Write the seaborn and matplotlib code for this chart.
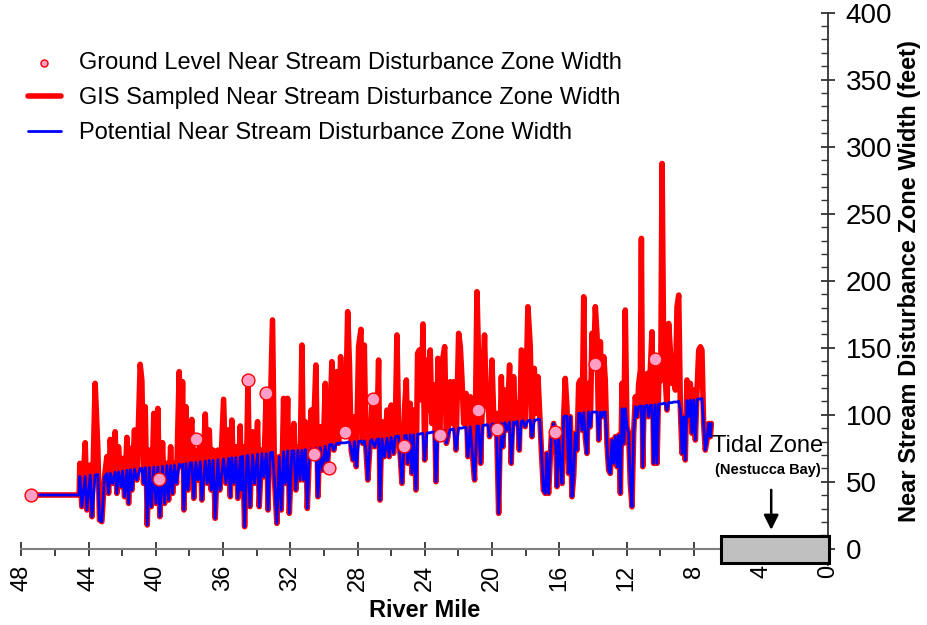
import numpy as np
import pandas as pd
import seaborn as sns
import matplotlib.pyplot as plt
from matplotlib.patches import Rectangle

# GIS sampled vertices (river mile, feet)
river_mile = [
    47.43, 44.56,
    44.52, 44.40, 44.20, 44.10, 43.90, 43.80, 43.61, 43.45, 43.35, 43.21,
    43.05, 42.91, 42.81, 42.71, 42.57, 42.42, 42.32, 42.22, 42.08, 41.98,
    41.86, 41.72, 41.62, 41.52, 41.42, 41.27, 41.13, 40.93, 40.83, 40.73,
    40.63, 40.51, 40.39, 40.27, 40.12, 39.99, 39.88, 39.76, 39.60, 39.48,
    39.34, 39.24, 39.12, 39.00, 38.89, 38.77, 38.61, 38.49, 38.41, 38.33,
    38.21, 38.09, 37.97, 37.86, 37.74, 37.62, 37.50, 37.36, 37.26, 37.06,
    36.94, 36.82, 36.71, 36.59, 36.47, 36.31, 36.19, 35.97, 35.83, 35.67,
    35.57, 35.48, 35.36, 35.24, 35.12, 34.98,
    34.92, 34.84, 34.72, 34.58, 34.52, 34.40, 34.25, 34.13, 33.95, 33.85,
    33.69, 33.59, 33.43, 33.33, 33.20, 33.06, 32.94, 32.80, 32.66, 32.54,
    32.40, 32.30, 32.16, 32.06, 31.91, 31.79, 31.67, 31.55, 31.43, 31.31,
    31.21, 31.11, 30.99, 30.87, 30.76, 30.66, 30.48, 30.36, 30.22, 30.08,
    29.92, 29.80, 29.67, 29.53, 29.41, 29.25, 29.13, 29.01, 28.89, 28.73,
    28.59, 28.48, 28.38, 28.28, 28.18, 28.08, 27.94, 27.80, 27.70, 27.60,
    27.50, 27.39, 27.25, 27.15, 26.99, 26.85, 26.75, 26.67, 26.55, 26.41,
    26.25, 26.12, 26.00, 25.86, 25.76, 25.66, 25.56,
    25.36, 25.20, 25.10, 25.01, 24.87, 24.77, 24.67, 24.53, 24.43, 24.33,
    24.21, 24.11, 24.01, 23.87, 23.78, 23.68, 23.58, 23.44, 23.34, 23.22,
    23.12, 22.98, 22.82, 22.72, 22.63, 22.49, 22.39, 22.29, 22.15, 21.99,
    21.89, 21.79, 21.69, 21.55, 21.44, 21.30, 21.16, 21.04, 20.90, 20.80,
    20.68, 20.56, 20.45, 20.35, 20.25, 20.15, 20.01, 19.89, 19.75, 19.61,
    19.45, 19.35, 19.24, 19.12, 18.96, 18.86, 18.72, 18.62, 18.50, 18.38,
    18.26, 18.15, 18.03, 17.87, 17.73, 17.63, 17.49, 17.39, 17.27, 17.17,
    17.07, 16.95, 16.84, 16.74, 16.64, 16.48, 16.34, 16.20,
    16.14, 16.04, 15.94, 15.84, 15.74, 15.65, 15.55, 15.45, 15.35, 15.25,
    15.15, 15.05, 14.95, 14.85, 14.75, 14.65, 14.55, 14.46, 14.36, 14.26,
    14.16, 14.06, 13.96, 13.86, 13.76, 13.66, 13.56, 13.46, 13.36, 13.27,
    13.17, 13.07, 12.97, 12.87, 12.77, 12.67, 12.57, 12.47, 12.37, 12.27,
    12.17, 12.08, 11.98, 11.88, 11.78, 11.68, 11.58, 11.48, 11.38, 11.28,
    11.18, 11.12, 11.04, 10.93, 10.85, 10.77, 10.69, 10.59, 10.49, 10.39,
    10.29, 10.19, 10.09, 9.97, 9.89, 9.80, 9.70, 9.60, 9.50, 9.40,
    9.30, 9.20, 9.10, 9.00, 8.90, 8.80, 8.70, 8.61, 8.51, 8.41,
    8.31, 8.21, 8.11, 8.01, 7.91, 7.81, 7.71, 7.61, 7.52, 7.42,
    7.32, 7.22, 7.12, 7.02, 6.96,
]

gis_width = [
    40.1, 40.1,
    63.7, 31.4, 79.1, 28.9, 62.5, 23.9, 123.4, 74.9, 21.4, 20.2,
    53.7, 68.7, 41.3, 81.6, 48.8, 87.3, 41.3, 76.1, 46.3, 67.4,
    38.8, 83.1, 33.8, 74.9, 43.8, 88.6, 51.3, 137.6, 125.4, 48.8,
    106.0, 17.7, 73.6, 31.4, 101.0, 33.8, 104.7, 23.9, 79.1, 33.8,
    63.7, 36.3, 76.1, 41.3, 63.7, 48.8, 132.1, 61.2, 124.6, 28.9,
    106.0, 43.8, 83.6, 96.5, 37.6, 73.6, 51.3, 78.6, 36.3, 100.5,
    48.8, 88.6, 43.8, 73.6, 22.7, 73.6, 43.8, 111.5, 48.8, 88.6,
    38.8, 96.0, 48.8, 76.1, 37.6, 91.6,
    43.8, 76.1, 16.4, 79.9, 124.6, 31.4, 87.3, 48.8, 94.8, 31.4,
    73.6, 53.7, 115.9, 28.9, 98.5, 170.7, 51.3, 18.9, 68.7, 28.9,
    112.2, 48.8, 112.2, 26.4, 73.6, 93.5, 43.8, 76.1, 51.3, 152.0,
    51.3, 94.8, 30.1, 71.2, 103.5, 71.2, 137.1, 38.8, 91.1, 58.7,
    123.4, 61.2, 83.6, 139.6, 73.6, 132.1, 78.6, 143.3, 93.5, 86.1,
    176.9, 135.8, 73.6, 66.2, 98.5, 61.2, 150.8, 163.7, 78.6, 152.0,
    73.6, 51.3, 79.9, 111.0, 76.1, 86.1, 140.8, 36.3, 94.8, 68.7,
    103.5, 68.7, 107.2, 71.2, 88.6, 159.5, 88.6,
    48.8, 106.0, 125.9, 63.7, 108.5, 56.2, 103.5, 43.8, 145.8, 148.3,
    111.0, 167.7, 66.2, 140.8, 103.5, 148.3, 93.5, 122.2, 50.0, 142.1,
    86.1, 138.3, 150.8, 78.6, 83.6, 124.6, 93.5, 124.6, 73.6, 160.7,
    150.8, 125.9, 93.5, 115.9, 68.7, 113.4, 68.7, 51.3, 191.8, 140.8,
    63.7, 118.4, 159.5, 106.0, 118.4, 83.6, 140.8, 93.5, 101.0, 26.4,
    128.4, 76.1, 118.4, 88.6, 137.1, 63.7, 128.4, 93.5, 108.5, 73.6,
    148.3, 147.0, 91.1, 180.6, 150.8, 83.6, 134.6, 101.0, 128.4, 101.0,
    73.6, 43.8, 41.3, 71.2, 41.3, 83.6, 93.5, 73.6,
    46.3, 83.6, 63.7, 48.7, 98.5, 127.1, 106.0, 56.2, 98.5, 38.8,
    53.7, 86.1, 73.6, 123.4, 125.9, 88.5, 188.0, 83.6, 71.1, 123.4,
    91.0, 160.7, 138.3, 180.6, 159.4, 81.1, 154.5, 98.5, 143.3, 125.9,
    78.6, 58.7, 56.2, 81.1, 63.7, 83.6, 61.2, 84.8, 41.3, 123.4,
    78.6, 178.1, 91.0, 86.1, 48.7, 31.3, 86.1, 113.4, 98.5, 123.4,
    133.3, 231.6, 61.2, 128.3, 108.4, 130.8, 98.5, 133.3, 161.9, 63.7,
    140.8, 63.7, 123.4, 125.9, 287.5, 150.7, 128.3, 103.5, 168.1, 148.2,
    123.4, 135.8, 118.4, 180.6, 189.3, 103.5, 71.1, 98.5, 66.2, 125.9,
    98.5, 123.4, 86.1, 118.4, 81.1, 118.4, 148.2, 150.7, 148.2, 93.5,
    73.6, 81.1, 93.5, 83.6, 93.5,
]

potential_width = [
    40.1, 40.1,
    54.0, 31.4, 54.0, 28.9, 55.0, 23.9, 55.0, 55.5, 21.4, 20.2,
    53.7, 56.0, 41.3, 56.5, 48.8, 57.0, 41.3, 57.5, 46.3, 58.0,
    38.8, 58.5, 33.8, 59.0, 43.8, 59.5, 51.3, 60.0, 60.0, 48.8,
    60.5, 17.7, 60.5, 31.4, 61.0, 33.8, 61.0, 23.9, 61.5, 33.8,
    62.0, 36.3, 62.0, 41.3, 62.5, 48.8, 63.0, 61.2, 63.0, 28.9,
    63.5, 43.8, 64.0, 64.0, 37.6, 64.5, 51.3, 65.0, 36.3, 65.5,
    48.8, 66.0, 43.8, 66.0, 22.7, 66.5, 43.8, 67.0, 48.8, 67.5,
    38.8, 68.0, 48.8, 68.0, 37.6, 68.5,
    43.8, 69.0, 16.4, 69.5, 69.5, 31.4, 70.0, 48.8, 70.5, 31.4,
    71.0, 53.7, 71.0, 28.9, 71.5, 72.0, 51.3, 18.9, 68.7, 28.9,
    72.5, 48.8, 73.0, 26.4, 73.0, 73.0, 43.8, 73.5, 51.3, 73.5,
    51.3, 74.0, 30.1, 71.2, 74.5, 71.2, 75.0, 38.8, 75.5, 58.7,
    76.5, 61.2, 77.5, 78.0, 73.6, 78.5, 78.6, 79.0, 79.0, 79.0,
    79.5, 79.5, 73.6, 66.2, 80.0, 61.2, 80.0, 80.5, 78.6, 80.5,
    73.6, 51.3, 79.9, 81.5, 76.1, 81.5, 82.0, 36.3, 82.0, 68.7,
    82.5, 68.7, 83.0, 71.2, 83.5, 84.0, 84.0,
    48.8, 84.5, 84.5, 63.7, 85.0, 56.2, 85.0, 43.8, 85.5, 85.5,
    86.0, 86.0, 66.2, 86.5, 86.5, 86.5, 87.0, 87.0, 50.0, 87.5,
    86.1, 88.0, 88.0, 78.6, 83.6, 89.0, 89.0, 89.5, 73.6, 90.0,
    90.0, 90.0, 90.5, 90.5, 68.7, 91.0, 68.7, 51.3, 91.5, 91.5,
    63.7, 92.0, 92.0, 92.5, 92.5, 83.6, 93.0, 93.0, 93.0, 26.4,
    93.5, 76.1, 94.0, 88.6, 94.5, 63.7, 94.5, 93.5, 95.0, 73.6,
    95.0, 95.5, 91.1, 95.5, 96.0, 83.6, 96.0, 96.0, 96.5, 96.5,
    73.6, 43.8, 41.3, 71.2, 41.3, 83.6, 93.5, 73.6,
    46.3, 83.6, 63.7, 48.7, 98.5, 99.0, 99.0, 56.2, 98.5, 38.8,
    53.7, 86.1, 73.6, 101.0, 101.0, 88.5, 101.5, 83.6, 71.1, 102.0,
    91.0, 102.0, 102.0, 102.0, 102.0, 81.1, 102.0, 98.5, 102.0, 102.0,
    78.6, 58.7, 56.2, 81.1, 63.7, 83.6, 61.2, 84.8, 41.3, 104.5,
    78.6, 104.5, 91.0, 86.1, 48.7, 31.3, 86.1, 106.0, 98.5, 106.0,
    106.5, 106.5, 61.2, 106.5, 106.5, 107.0, 98.5, 107.0, 107.0, 63.7,
    107.5, 63.7, 108.0, 108.0, 108.0, 108.5, 108.5, 103.5, 109.0, 109.0,
    109.0, 109.5, 109.5, 109.5, 110.0, 103.5, 71.1, 98.5, 66.2, 110.5,
    98.5, 111.0, 86.1, 111.0, 81.1, 111.5, 111.5, 112.0, 112.0, 93.5,
    73.6, 81.1, 93.5, 83.6, 93.5,
]

# ground level measurements
ground_mile = [47.43, 39.84, 37.60, 34.52, 33.43, 30.62, 29.73, 28.73,
               27.11, 25.22, 23.08, 20.86, 19.71, 16.24, 13.90, 10.29]
ground_width = [40.1, 52.0, 81.9, 125.9, 116.0, 70.7, 60.0, 87.3,
                111.7, 76.9, 84.9, 103.5, 89.3, 87.3, 137.8, 141.6]

x_ticks = list(range(0, 49, 4))
y_ticks = list(range(0, 401, 50))

sns.set_style('white')
plt.rcParams['font.family'] = ['Liberation Sans', 'DejaVu Sans']
plt.rcParams['text.color'] = 'black'
plt.rcParams['axes.labelcolor'] = 'black'
plt.rcParams['xtick.color'] = 'black'
plt.rcParams['ytick.color'] = 'black'

fig = plt.figure(figsize=(9.27, 6.25), dpi=100)
ax = fig.add_axes([0.023, 0.0963, 0.8706, 0.8834])

df = pd.DataFrame({'mile': river_mile, 'gis': gis_width, 'potential': potential_width})

sns.lineplot(data=df, x='mile', y='gis', color='#ff0000', linewidth=4.0,
             estimator=None, sort=False, ax=ax, zorder=2,
             label='GIS Sampled Near Stream Disturbance Zone Width')
sns.lineplot(data=df, x='mile', y='potential', color='#0000ff', linewidth=2.0,
             estimator=None, sort=False, ax=ax, zorder=3,
             label='Potential Near Stream Disturbance Zone Width')
sns.scatterplot(x=ground_mile, y=ground_width, s=85, color='#ff9fc8',
                edgecolor='#ff0000', linewidth=1.0, zorder=4, ax=ax,
                label='Ground Level Near Stream Disturbance Zone Width')

# axes layout
ax.set_xlim(48, 0)
ax.set_ylim(-12, 400)
ax.spines['left'].set_visible(False)
ax.spines['top'].set_visible(False)
ax.spines['bottom'].set_position(('data', 0))
ax.spines['bottom'].set_color('#7f7f7f')
ax.spines['bottom'].set_linewidth(1.5)
ax.spines['right'].set_color('#333333')
ax.spines['right'].set_linewidth(1.3)

ax.yaxis.tick_right()
ax.yaxis.set_label_position('right')
ax.set_xticks(x_ticks)
ax.set_xticks(list(range(2, 48, 4)), minor=True)
ax.set_yticks(y_ticks)
ax.set_yticks(list(range(0, 401, 10)), minor=True)

ax.tick_params(axis='x', which='major', direction='inout', length=10, width=1.3,
               color='#333333', labelcolor='black', labelrotation=90, labelsize=17,
               pad=6.5, bottom=True)
ax.tick_params(axis='x', which='minor', direction='out', length=5, width=1.3,
               color='#333333', bottom=True)
ax.tick_params(axis='y', which='major', direction='inout', length=10, width=1.3,
               color='#333333', labelcolor='black', labelsize=20, pad=7.5,
               right=True, left=False)
ax.tick_params(axis='y', which='minor', direction='in', length=5, width=1.0,
               color='#333333', right=True, left=False)

ax.set_xlabel('River Mile', fontsize=17, fontweight='bold', va='center', color='black')
ax.xaxis.set_label_coords(0.5, -0.082)
ax.set_ylabel('Near Stream Disturbance Zone Width (feet)', fontsize=17,
              fontweight='bold', rotation=90, va='center', color='black')
ax.yaxis.set_label_coords(1.101, 0.514)

# tidal zone box and label
box = Rectangle((-0.05, -11), 6.45, 20.5, facecolor='#c0c0c0', edgecolor='black',
                linewidth=2.2, clip_on=False, zorder=5)
ax.add_patch(box)
ax.annotate('', xy=(3.4, 12), xytext=(3.4, 46),
            arrowprops=dict(arrowstyle='-|>', color='black', lw=1.8, mutation_scale=22))
ax.text(3.6, 77, 'Tidal Zone', ha='center', va='center', fontsize=17, color='black')
ax.text(3.6, 58.5, '(Nestucca Bay)', ha='center', va='center', fontsize=10.5,
        fontweight='bold', color='black')

handles, labels = ax.get_legend_handles_labels()
order = [2, 0, 1]
leg = ax.legend([handles[i] for i in order], [labels[i] for i in order],
                loc='upper left', bbox_to_anchor=(0.03, 0.917),
                bbox_transform=fig.transFigure, frameon=False, fontsize=17,
                handlelength=1.4, handletextpad=0.75, labelspacing=0.56,
                markerscale=0.55, borderpad=0, borderaxespad=0)
for t in leg.get_texts():
    t.set_color('black')

fig.savefig('out.png', dpi=100)
